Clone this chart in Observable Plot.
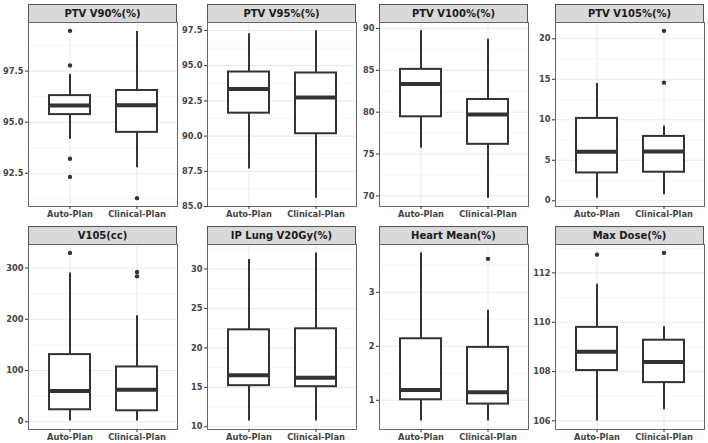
<!DOCTYPE html>
<html>
<head>
<meta charset="utf-8">
<script src="https://cdn.jsdelivr.net/npm/d3@7"></script>
<script src="https://cdn.jsdelivr.net/npm/@observablehq/plot@0.6"></script>
<style>
  html, body { margin: 0; padding: 0; background: #fff; }
  #chart { position: relative; width: 708px; height: 443px; overflow: hidden; background: #fff; }
  .strip {
    position: absolute; box-sizing: border-box; background: #d9d9d9;
    border: 1px solid #555; font: bold 10px "DejaVu Sans", sans-serif; color: #1a1a1a;
    display: flex; align-items: center; justify-content: center; white-space: nowrap;
  }
  #chart svg { position: absolute; }
</style>
</head>
<body>
<div id="chart"></div>
<script>
// ---- data ----
const plans = ["Auto-Plan", "Clinical-Plan"];
const metrics = ["PTV V90%(%)", "PTV V95%(%)", "PTV V100%(%)", "PTV V105%(%)",
                 "V105(cc)", "IP Lung V20Gy(%)", "Heart Mean(%)", "Max Dose(%)"];

// Auto-Plan box statistics per metric
const autoLow    = [94.16, 87.66, 75.68, 0.33,   1.4, 10.72, 0.615, 105.99];
const autoQ1     = [95.37, 91.63, 79.45, 3.44,  23.5, 15.21, 1.01,  108.04];
const autoMedian = [95.81, 93.35, 83.36, 6.06,  60.1, 16.53, 1.19,  108.80];
const autoQ3     = [96.30, 94.55, 85.12, 10.17, 131.1, 22.29, 2.14, 109.79];
const autoHigh   = [97.33, 97.26, 89.72, 14.47, 290.4, 31.19, 3.73, 111.54];
const autoOutliers = [[99.47, 97.78, 93.21, 92.32], [], [], [], [329.5], [], [], [112.74]];

// Clinical-Plan box statistics per metric
const clinLow    = [92.77, 85.60, 69.73, 0.74,   1.4, 10.72, 0.615, 106.45];
const clinQ1     = [94.50, 90.17, 76.16, 3.53,  21.5, 15.08, 0.93,  107.55];
const clinMedian = [95.83, 92.74, 79.72, 6.10,  62.6, 16.23, 1.15,  108.39];
const clinQ3     = [96.55, 94.48, 81.52, 7.95, 107.0, 22.42, 1.98,  109.27];
const clinHigh   = [99.44, 97.47, 88.72, 9.22, 206.8, 32.04, 2.67,  109.82];
const clinOutliers = [[91.28], [], [], [20.98, 14.59], [292.4, 283.8], [], [3.62], [112.81]];

// y tick values per metric
const yTicks = [
  [92.5, 95.0, 97.5],
  [85.0, 87.5, 90.0, 92.5, 95.0, 97.5],
  [70, 75, 80, 85, 90],
  [0, 5, 10, 15, 20],
  [0, 100, 200, 300],
  [10, 15, 20, 25, 30],
  [1, 2, 3],
  [106, 108, 110, 112]
];
const yDecimals = [1, 1, 0, 0, 0, 0, 0, 0];

// ---- layout ----
const panelLefts = [28, 207, 379, 555];
const panelW = 149;
const rows = [
  {stripTop: 4, plotTop: 22, plotH: 184},
  {stripTop: 226, plotTop: 244, plotH: 185}
];
const ml = 34, mr = 4, mb = 22;
const ink = "#333";

const chart = document.getElementById("chart");

metrics.forEach((title, i) => {
  const row = rows[Math.floor(i / 4)];
  const left = panelLefts[i % 4];

  const stats = [
    {plan: plans[0], low: autoLow[i], q1: autoQ1[i], median: autoMedian[i], q3: autoQ3[i], high: autoHigh[i]},
    {plan: plans[1], low: clinLow[i], q1: clinQ1[i], median: clinMedian[i], q3: clinQ3[i], high: clinHigh[i]}
  ];
  const outliers = [
    ...autoOutliers[i].map(v => ({plan: plans[0], value: v})),
    ...clinOutliers[i].map(v => ({plan: plans[1], value: v}))
  ];
  const allVals = [...stats.flatMap(d => [d.low, d.high]), ...outliers.map(d => d.value)];
  const [mn, mx] = d3.extent(allVals);
  const pad = (mx - mn) * 0.05;
  const domain = [mn - pad, mx + pad];

  const ticks = yTicks[i];
  const step = ticks[1] - ticks[0];
  const minor = [];
  for (let v = ticks[0] - step / 2; v <= domain[1]; v += step) {
    if (v >= domain[0]) minor.push(v);
  }
  const fmt = d3.format("." + yDecimals[i] + "f");

  // strip
  const strip = document.createElement("div");
  strip.className = "strip";
  strip.style.left = left + "px";
  strip.style.top = row.stripTop + "px";
  strip.style.width = panelW + "px";
  strip.style.height = (row.plotTop - row.stripTop + 1) + "px";
  strip.textContent = title;
  chart.appendChild(strip);

  const svg = Plot.plot({
    width: ml + panelW + mr,
    height: row.plotH + mb,
    marginLeft: ml, marginRight: mr, marginTop: 0, marginBottom: mb,
    style: {fontFamily: "DejaVu Sans", fontWeight: "bold", fontSize: "8.3px",
            color: "#444", background: "transparent", overflow: "visible"},
    x: {type: "band", domain: plans, paddingInner: 0.39, paddingOuter: 0.295, align: 0.5, label: null},
    y: {domain, label: null},
    marks: [
      Plot.gridY(minor, {stroke: "#f2f2f2", strokeOpacity: 1, strokeWidth: 0.7}),
      Plot.gridY(ticks, {stroke: "#ebebeb", strokeOpacity: 1, strokeWidth: 1.1}),
      Plot.gridX(plans, {stroke: "#ebebeb", strokeOpacity: 1, strokeWidth: 1.1}),
      Plot.ruleX(stats, {x: "plan", y1: "low", y2: "q1", stroke: ink, strokeWidth: 2}),
      Plot.ruleX(stats, {x: "plan", y1: "q3", y2: "high", stroke: ink, strokeWidth: 2}),
      Plot.barY(stats, {x: "plan", y1: "q1", y2: "q3", fill: "white", stroke: ink, strokeWidth: 2, inset: 0}),
      Plot.tickY(stats, {x: "plan", y: "median", stroke: ink, strokeWidth: 4}),
      Plot.dot(outliers, {x: "plan", y: "value", r: 2.2, fill: ink, stroke: "none"}),
      Plot.frame({stroke: "#666", strokeWidth: 1}),
      Plot.axisY(ticks, {tickSize: 3, tickPadding: 2, tickFormat: fmt, stroke: ink, label: null}),
      Plot.axisX(plans, {tickSize: 3, tickPadding: 2, stroke: ink, label: null})
    ]
  });
  svg.style.left = (left - ml) + "px";
  svg.style.top = row.plotTop + "px";
  chart.appendChild(svg);
});
</script>
</body>
</html>
